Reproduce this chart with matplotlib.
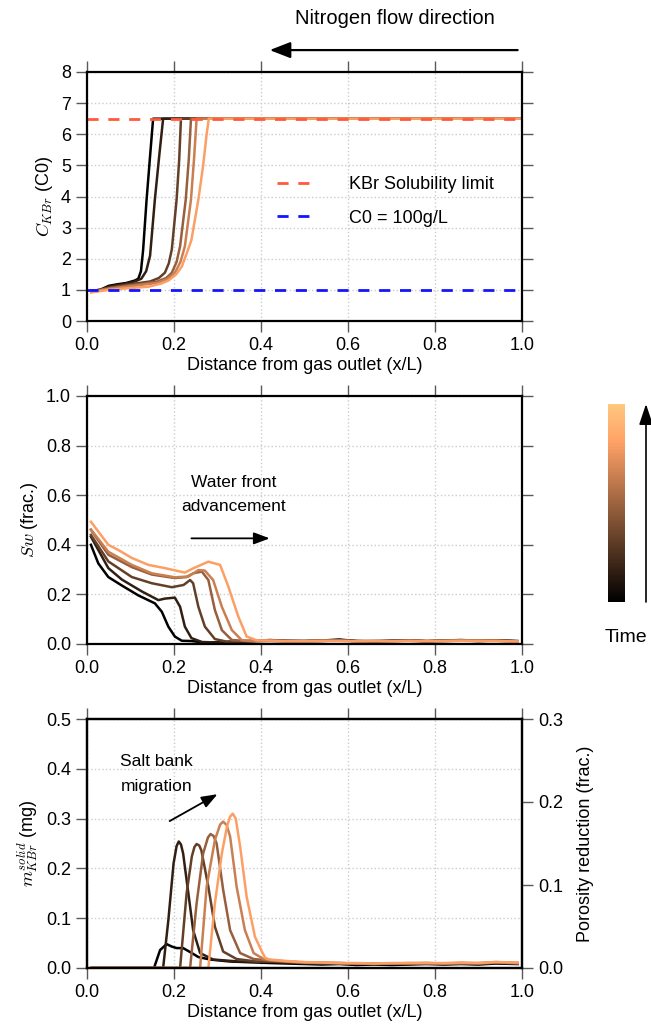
import numpy as np
import matplotlib
matplotlib.use('Agg')
from matplotlib import pyplot as plt
import matplotlib as mpl

plt.rcParams['font.family'] = ['Liberation Sans', 'DejaVu Sans']
plt.rcParams['mathtext.fontset'] = 'cm'
plt.rcParams['font.size'] = 13

# time levels (copper colormap position of each profile)
time_levels = [0.0, 0.16, 0.32, 0.48, 0.64, 0.8]

# ---- panel 1: KBr concentration (C0) ----
conc_x = [
    [0.01, 0.03, 0.05, 0.07, 0.09, 0.11, 0.118, 0.124, 0.129, 0.137, 0.145, 0.152, 1.0],
    [0.01, 0.03, 0.05, 0.07, 0.09, 0.11, 0.125, 0.136, 0.145, 0.156, 0.166, 0.175, 1.0],
    [0.01, 0.05, 0.09, 0.12, 0.145, 0.165, 0.179, 0.188, 0.195, 0.206, 0.212, 0.216, 1.0],
    [0.01, 0.05, 0.09, 0.13, 0.16, 0.182, 0.195, 0.206, 0.214, 0.227, 0.234, 0.239, 1.0],
    [0.01, 0.05, 0.09, 0.13, 0.16, 0.185, 0.202, 0.215, 0.225, 0.239, 0.246, 0.252, 1.0],
    [0.01, 0.05, 0.10, 0.141, 0.17, 0.187, 0.205, 0.218, 0.23, 0.24, 0.256, 0.267, 0.275, 0.28, 1.0],
]
conc_y = [
    [0.97, 1.0, 1.13, 1.18, 1.22, 1.3, 1.36, 1.6, 2.28, 3.9, 5.3, 6.5, 6.5],
    [0.96, 0.99, 1.1, 1.15, 1.2, 1.27, 1.36, 1.6, 2.1, 3.9, 5.3, 6.5, 6.5],
    [0.95, 1.07, 1.16, 1.22, 1.27, 1.38, 1.55, 1.85, 2.3, 3.9, 5.2, 6.5, 6.5],
    [0.94, 1.05, 1.13, 1.2, 1.26, 1.38, 1.55, 1.9, 2.4, 3.9, 5.2, 6.5, 6.5],
    [0.93, 1.03, 1.1, 1.17, 1.22, 1.35, 1.55, 1.9, 2.4, 3.9, 5.2, 6.5, 6.5],
    [0.92, 1.0, 1.06, 1.1, 1.2, 1.3, 1.5, 1.75, 2.2, 2.6, 3.9, 5.0, 6.0, 6.5, 6.5],
]
solubility_limit = 6.5
c0_level = 1.0

# ---- panel 2: water saturation ----
tail_x = [0.42, 0.46, 0.5, 0.54, 0.58, 0.62, 0.66, 0.7, 0.74, 0.78, 0.82, 0.86, 0.9, 0.94, 0.99]
sw_x = [
    [0.009, 0.026, 0.049, 0.08, 0.118, 0.156, 0.172, 0.187, 0.202, 0.218, 0.24, 0.27, 0.33, 0.38],
    [0.009, 0.049, 0.08, 0.126, 0.164, 0.179, 0.202, 0.214, 0.225, 0.24, 0.264, 0.3, 0.36],
    [0.009, 0.049, 0.103, 0.149, 0.195, 0.222, 0.237, 0.244, 0.256, 0.271, 0.294, 0.32, 0.37],
    [0.009, 0.049, 0.103, 0.149, 0.202, 0.229, 0.244, 0.264, 0.279, 0.294, 0.31, 0.333, 0.37],
    [0.009, 0.049, 0.103, 0.149, 0.202, 0.233, 0.256, 0.271, 0.29, 0.31, 0.333, 0.356, 0.39],
    [0.009, 0.049, 0.072, 0.103, 0.141, 0.179, 0.225, 0.244, 0.279, 0.306, 0.325, 0.348, 0.367, 0.39],
]
sw_y = [
    [0.40, 0.325, 0.27, 0.236, 0.196, 0.164, 0.13, 0.07, 0.03, 0.013, 0.012, 0.006, 0.008, 0.012],
    [0.433, 0.306, 0.26, 0.212, 0.177, 0.183, 0.187, 0.15, 0.07, 0.024, 0.008, 0.006, 0.01],
    [0.44, 0.333, 0.27, 0.245, 0.229, 0.238, 0.258, 0.245, 0.15, 0.07, 0.02, 0.01, 0.012],
    [0.46, 0.36, 0.31, 0.28, 0.266, 0.27, 0.285, 0.292, 0.258, 0.137, 0.056, 0.016, 0.012],
    [0.462, 0.372, 0.319, 0.285, 0.269, 0.272, 0.298, 0.296, 0.258, 0.15, 0.056, 0.015, 0.012],
    [0.493, 0.40, 0.379, 0.347, 0.319, 0.306, 0.288, 0.305, 0.332, 0.319, 0.231, 0.11, 0.03, 0.015],
]
sw_tail = [
    [0.016, 0.013, 0.012, 0.014, 0.018, 0.012, 0.01, 0.013, 0.015, 0.011, 0.014, 0.016, 0.013, 0.015, 0.012],
    [0.014, 0.012, 0.011, 0.013, 0.016, 0.011, 0.012, 0.012, 0.014, 0.012, 0.013, 0.015, 0.012, 0.014, 0.011],
    [0.013, 0.011, 0.012, 0.012, 0.015, 0.012, 0.011, 0.013, 0.013, 0.011, 0.012, 0.014, 0.013, 0.013, 0.011],
    [0.012, 0.012, 0.011, 0.013, 0.014, 0.011, 0.012, 0.011, 0.014, 0.012, 0.012, 0.013, 0.012, 0.014, 0.01],
    [0.013, 0.011, 0.012, 0.012, 0.013, 0.012, 0.011, 0.012, 0.013, 0.011, 0.013, 0.014, 0.012, 0.013, 0.011],
    [0.014, 0.012, 0.011, 0.013, 0.012, 0.011, 0.012, 0.011, 0.012, 0.012, 0.012, 0.013, 0.013, 0.012, 0.01],
]

# ---- panel 3: solid KBr mass ----
salt_x = [
    [0.01, 0.154, 0.168, 0.183, 0.195, 0.206, 0.221, 0.241, 0.256, 0.283, 0.329, 0.39],
    [0.01, 0.175, 0.187, 0.199, 0.206, 0.211, 0.216, 0.221, 0.233, 0.244, 0.26, 0.29, 0.35],
    [0.01, 0.214, 0.229, 0.241, 0.247, 0.252, 0.258, 0.263, 0.279, 0.294, 0.313, 0.344, 0.39],
    [0.01, 0.237, 0.252, 0.267, 0.278, 0.284, 0.291, 0.298, 0.313, 0.329, 0.352, 0.383],
    [0.01, 0.26, 0.275, 0.294, 0.306, 0.313, 0.321, 0.329, 0.344, 0.363, 0.383, 0.406],
    [0.01, 0.279, 0.294, 0.31, 0.322, 0.329, 0.335, 0.342, 0.352, 0.367, 0.386, 0.402, 0.41],
]
salt_y = [
    [0.0, 0.0, 0.036, 0.048, 0.043, 0.04, 0.04, 0.03, 0.022, 0.017, 0.013, 0.011],
    [0.0, 0.0, 0.096, 0.21, 0.245, 0.254, 0.248, 0.23, 0.15, 0.076, 0.03, 0.017, 0.013],
    [0.0, 0.0, 0.15, 0.224, 0.243, 0.249, 0.246, 0.236, 0.163, 0.083, 0.033, 0.018, 0.013],
    [0.0, 0.0, 0.13, 0.23, 0.262, 0.269, 0.265, 0.25, 0.157, 0.076, 0.03, 0.018],
    [0.0, 0.0, 0.163, 0.257, 0.288, 0.294, 0.287, 0.264, 0.163, 0.076, 0.03, 0.018],
    [0.0, 0.0, 0.13, 0.23, 0.285, 0.304, 0.31, 0.3, 0.244, 0.143, 0.063, 0.033, 0.02],
]
salt_tail = [
    [0.01, 0.009, 0.008, 0.007, 0.008, 0.006, 0.007, 0.006, 0.007, 0.008, 0.007, 0.008, 0.007, 0.009, 0.008],
    [0.012, 0.011, 0.01, 0.009, 0.009, 0.008, 0.008, 0.008, 0.008, 0.009, 0.008, 0.009, 0.008, 0.01, 0.009],
    [0.013, 0.012, 0.01, 0.01, 0.009, 0.009, 0.008, 0.009, 0.009, 0.009, 0.009, 0.009, 0.009, 0.011, 0.009],
    [0.015, 0.013, 0.011, 0.01, 0.01, 0.009, 0.009, 0.009, 0.009, 0.01, 0.009, 0.01, 0.009, 0.011, 0.01],
    [0.016, 0.013, 0.011, 0.011, 0.01, 0.009, 0.009, 0.009, 0.01, 0.01, 0.009, 0.01, 0.01, 0.012, 0.01],
    [0.017, 0.014, 0.012, 0.011, 0.01, 0.01, 0.009, 0.01, 0.01, 0.01, 0.01, 0.011, 0.01, 0.012, 0.011],
]

x_ticks = [0.0, 0.2, 0.4, 0.6, 0.8, 1.0]
xlabel = 'Distance from gas outlet (x/L)'

W, H = 651, 1036
fig = plt.figure(figsize=(W / 100, H / 100), dpi=100)


def box(l, t, r, b):
    return [l / W, 1 - b / H, (r - l) / W, (b - t) / H]


ax1 = fig.add_axes(box(87, 72, 522, 321))
ax2 = fig.add_axes(box(87, 396, 522, 644))
ax3 = fig.add_axes(box(87, 719, 522, 968))

colors = plt.cm.copper(time_levels)


def style(ax, right=True):
    for s in ax.spines.values():
        s.set_linewidth(1.6)
    ax.tick_params(direction='out', length=8, width=1, color='0.35',
                   top=True, right=right, labelsize=13)
    ax.grid(True, ls=':', color='0.8', lw=1)
    ax.set_xlim(0, 1)
    ax.set_xticks(x_ticks)
    ax.set_xticklabels(['%.1f' % v for v in x_ticks])
    ax.set_xlabel(xlabel, fontsize=13, labelpad=2)


# panel 1
for xs, ys, c in zip(conc_x, conc_y, colors):
    ax1.plot(xs, ys, color=c, lw=1.8)
ax1.axhline(solubility_limit, color='#ff5a3c', ls=(0, (4, 3.5)), lw=2,
            label='KBr Solubility limit')
ax1.axhline(c0_level, color='#1414ff', ls=(0, (4, 3.5)), lw=2,
            label='C0 = 100g/L')
ax1.set_ylim(0, 8)
ax1.set_yticks(range(0, 9))
style(ax1)
ax1.set_ylabel(r'$C_{KBr}$ (C0)', fontsize=13)
ax1.legend(loc='center left', bbox_to_anchor=(0.4, 0.48), frameon=False,
           fontsize=13, handlelength=2.2, handletextpad=1.8, labelspacing=0.9)
ax1.annotate('', xy=(0.42, 1.088), xytext=(0.99, 1.088), xycoords='axes fraction',
             arrowprops=dict(arrowstyle='-|>,head_length=0.9,head_width=0.35',
                             color='k', lw=1.6, mutation_scale=14,
                             shrinkA=0, shrinkB=0), annotation_clip=False)
ax1.text(0.708, 1.213, 'Nitrogen flow direction', transform=ax1.transAxes,
         ha='center', va='center', fontsize=14.5)

# panel 2
for xs, ys, tl, c in zip(sw_x, sw_y, sw_tail, colors):
    ax2.plot(list(xs) + tail_x, list(ys) + tl, color=c, lw=1.8)
ax2.set_ylim(0, 1)
ax2.set_yticks([0.0, 0.2, 0.4, 0.6, 0.8, 1.0])
ax2.set_yticklabels(['0.0', '0.2', '0.4', '0.6', '0.8', '1.0'])
style(ax2)
ax2.set_ylabel(r'$Sw$ (frac.)', fontsize=13)
ax2.text(0.337, 0.653, 'Water front', ha='center', va='center', fontsize=12.5)
ax2.text(0.337, 0.555, 'advancement', ha='center', va='center', fontsize=12.5)
ax2.annotate('', xy=(0.42, 0.426), xytext=(0.24, 0.426),
             arrowprops=dict(arrowstyle='-|>,head_length=0.8,head_width=0.3',
                             color='k', lw=1.3, mutation_scale=12,
                             shrinkA=0, shrinkB=0))

# panel 3
for xs, ys, tl, c in zip(salt_x, salt_y, salt_tail, colors):
    ax3.plot(list(xs) + tail_x, list(ys) + tl, color=c, lw=1.8)
ax3.set_ylim(0, 0.5)
ax3.set_yticks([0.0, 0.1, 0.2, 0.3, 0.4, 0.5])
ax3.set_yticklabels(['0.0', '0.1', '0.2', '0.3', '0.4', '0.5'])
style(ax3, right=False)
ax3.set_ylabel(r'$m_{KBr}^{solid}$ (mg)', fontsize=13)
ax3.text(0.077, 0.415, 'Salt bank', ha='left', va='center', fontsize=12.5)
ax3.text(0.077, 0.365, 'migration', ha='left', va='center', fontsize=12.5)
ax3.annotate('', xy=(0.30, 0.349), xytext=(0.19, 0.295),
             arrowprops=dict(arrowstyle='-|>,head_length=0.8,head_width=0.3',
                             color='k', lw=1.3, mutation_scale=12,
                             shrinkA=0, shrinkB=0))
ax3b = ax3.twinx()
ax3b.set_ylim(0, 0.3)
ax3b.set_yticks([0.0, 0.1, 0.2, 0.3])
ax3b.set_yticklabels(['0.0', '0.1', '0.2', '0.3'])
ax3b.tick_params(direction='out', length=8, width=1, color='0.35', labelsize=13)
ax3b.set_ylabel('Porosity reduction (frac.)', fontsize=13, labelpad=10)
for s in ax3b.spines.values():
    s.set_linewidth(1.6)

# time colorbar
cax = fig.add_axes(box(608, 404, 625, 602))
cb = mpl.colorbar.ColorbarBase(cax, cmap=plt.cm.copper, orientation='vertical')
cb.set_ticks([])
cb.outline.set_visible(False)
fig.add_artist(mpl.patches.FancyArrowPatch(
    (646 / W, 1 - 602 / H), (646 / W, 1 - 404 / H), transform=fig.transFigure,
    arrowstyle='-|>,head_length=0.9,head_width=0.3', mutation_scale=14,
    color='k', lw=1.2, shrinkA=0, shrinkB=0))
fig.text(626 / W, 1 - 638 / H, 'Time', ha='center', va='center', fontsize=14)

fig.savefig('out.png', dpi=100)
